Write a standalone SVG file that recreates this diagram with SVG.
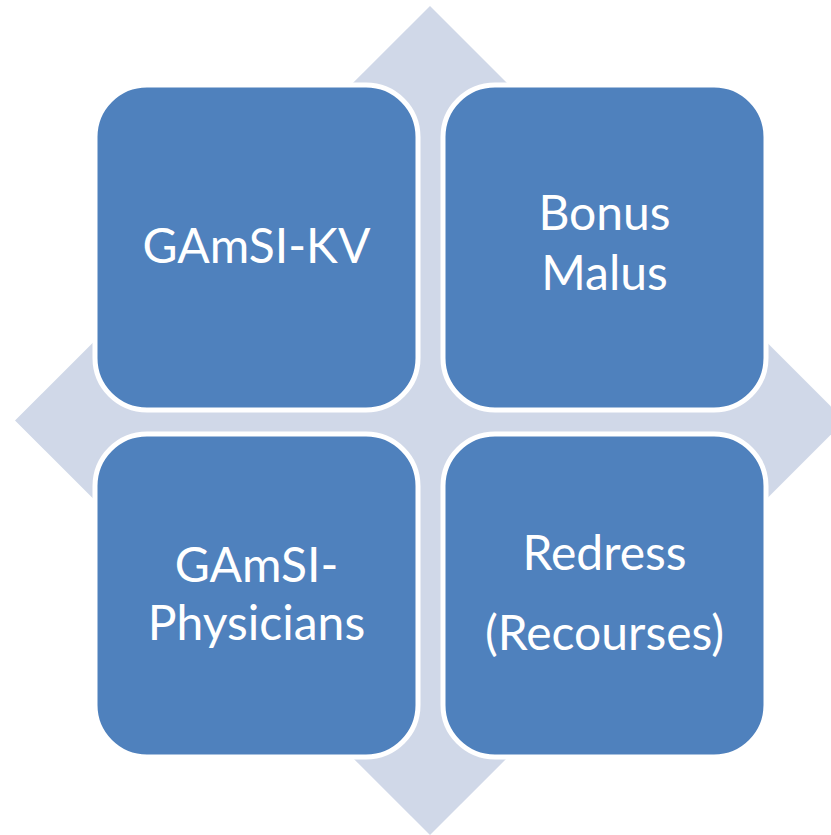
<svg xmlns="http://www.w3.org/2000/svg" width="831" height="835" viewBox="0 0 831 835">
<style>
.box{fill:#4F81BD;stroke:#FFFFFF;stroke-width:5}
.lbl{fill:#FFFFFF;font-family:Lato,"Open Sans","Liberation Sans",sans-serif;font-size:48px;text-anchor:middle}
</style>
<rect width="831" height="835" fill="#FFFFFF"/>
<g id="background">
<polygon points="430,6 845,420.5 430,835 15,420.5" fill="#D0D8E8"/>
</g>
<g id="connectors"></g>
<g id="node-gamsi-kv">
<rect class="box" x="95" y="85" width="323" height="325" rx="52"/>
<text class="lbl" x="256.5" y="263">GAmSI-KV</text>
</g>
<g id="node-bonus-malus">
<rect class="box" x="443" y="85" width="323" height="325" rx="52"/>
<text class="lbl" x="604.5" y="230">Bonus</text>
<text class="lbl" x="604.5" y="290">Malus</text>
</g>
<g id="node-gamsi-physicians">
<rect class="box" x="95" y="434" width="323" height="323" rx="52"/>
<text class="lbl" x="256.5" y="582">GAmSI-</text>
<text class="lbl" x="256.5" y="640">Physicians</text>
</g>
<g id="node-redress">
<rect class="box" x="443" y="434" width="323" height="323" rx="52"/>
<text class="lbl" x="604.5" y="570">Redress</text>
<text class="lbl" x="604.5" y="650">(Recourses)</text>
</g>
</svg>
